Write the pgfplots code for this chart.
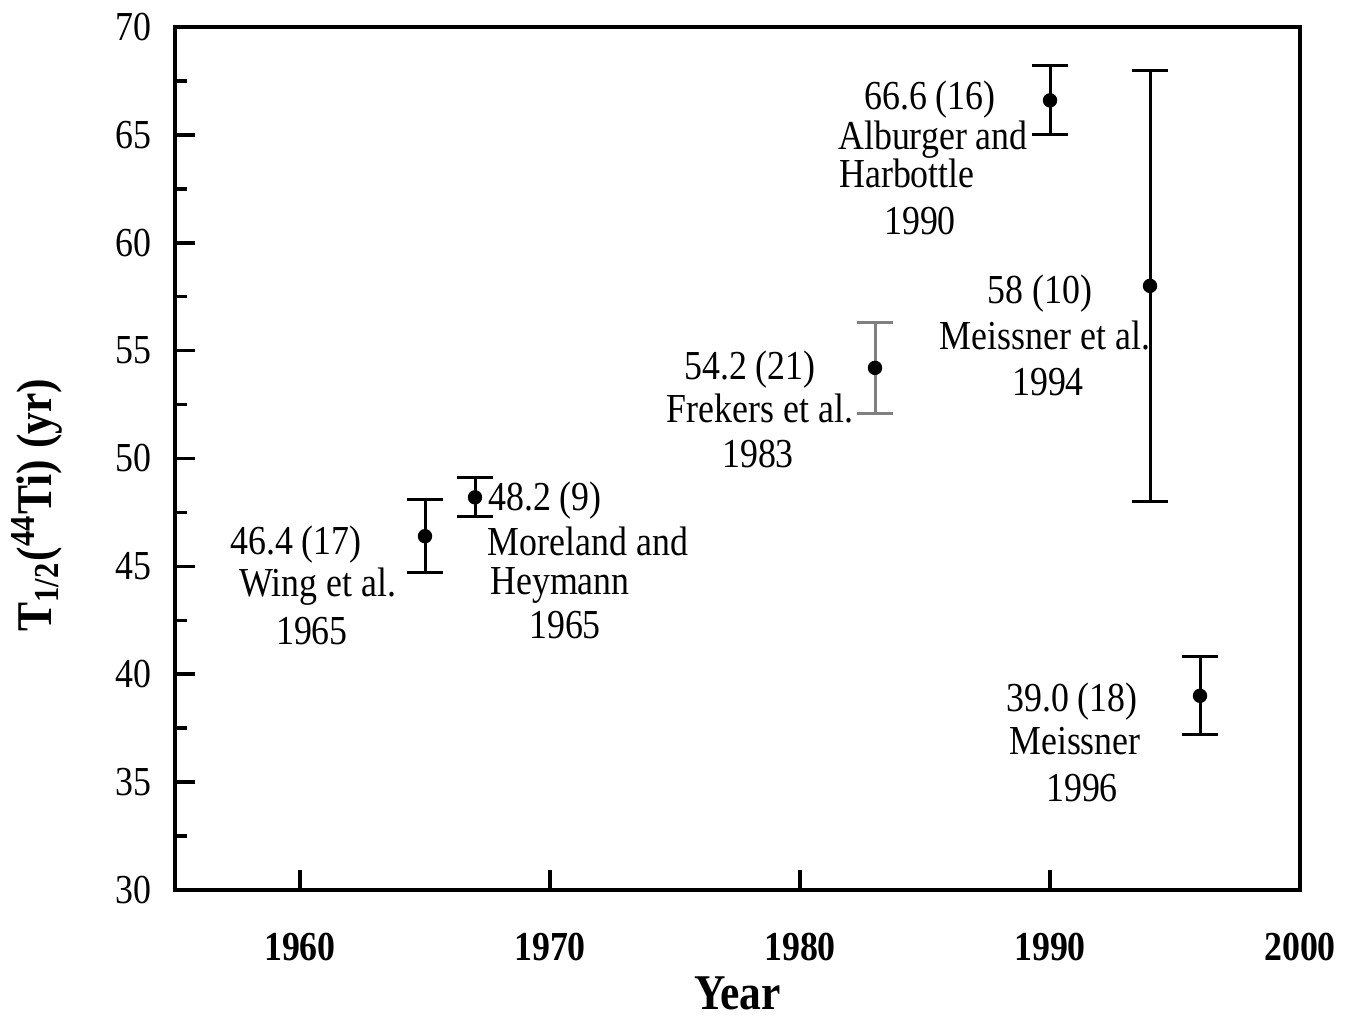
\documentclass[border=0pt]{standalone}
\usepackage{fontspec}
\setmainfont{Liberation Serif}[FakeStretch=0.87]
\usepackage{pgfplots}
\pgfplotsset{compat=1.18}

\begin{document}
\begin{tikzpicture}[
  lab/.style={anchor=base, yshift=-3.5pt, inner sep=0pt,
              font=\fontsize{10.3}{12}\selectfont},
]
\begin{axis}[
  name=ax,
  scale only axis, width=281.25pt, height=215.75pt,
  xmin=1955, xmax=2000, ymin=30, ymax=70,
  xtick={1960,1970,...,2000},
  ytick={30,35,...,70},
  minor ytick={32.5,37.5,...,67.5},
  tick align=inside, xtick pos=bottom, ytick pos=left,
  major tick length=5pt, minor tick length=3pt,
  axis line style={line width=1pt},
  tick style={line width=0.9pt, black},
  /pgf/number format/assume math mode=true,
  /pgf/number format/1000 sep={},
  xticklabel style={font=\fontsize{10.3}{12}\selectfont\bfseries, yshift=-7.3pt},
  yticklabel style={font=\fontsize{10.3}{12}\selectfont, xshift=-2.3pt},
  xlabel={Year},
  xlabel style={font=\fontsize{12.5}{14}\selectfont\bfseries,
                at={(axis description cs:0.5,0)}, anchor=base, yshift=-30pt},
  ylabel={T\textsubscript{1/2}(\textsuperscript{44}Ti) (yr)},
  ylabel style={font=\fontsize{12.5}{14}\selectfont\bfseries,
                at={(axis description cs:-0.123,0.446)}, anchor=center},
  clip=false,
]
% half-life measurements with their quoted uncertainties
\addplot[only marks, mark=*, mark size=1.6pt, black,
  error bars/.cd, y dir=both, y explicit,
  error bar style={line width=0.75pt, black},
  error mark options={rotate=90, mark size=4.5pt, line width=0.75pt, black}]
  coordinates {
    (1965,46.4) +- (0,1.7)
    (1967,48.2) +- (0,0.9)
    (1990,66.6) +- (0,1.6)
    (1994,58.0) +- (0,10.0)
    (1996,39.0) +- (0,1.8)
  };
\addplot[only marks, mark=*, mark size=1.6pt, black,
  error bars/.cd, y dir=both, y explicit,
  error bar style={line width=0.75pt, gray},
  error mark options={rotate=90, mark size=4.5pt, line width=0.75pt, gray}]
  coordinates {
    (1983,54.2) +- (0,2.1)
  };

% labels beside each measurement
\node[lab] at (axis cs:1959.84,46.22) {46.4 (17)};
\node[lab] at (axis cs:1960.72,44.23) {Wing et al.};
\node[lab] at (axis cs:1960.48,42.05) {1965};

\node[lab] at (axis cs:1969.80,48.22) {48.2 (9)};
\node[lab] at (axis cs:1971.52,46.13) {Moreland and};
\node[lab] at (axis cs:1970.40,44.36) {Heymann};
\node[lab] at (axis cs:1970.60,42.30) {1965};

\node[lab] at (axis cs:1978.00,54.29) {54.2 (21)};
\node[lab] at (axis cs:1978.40,52.34) {Frekers et al.};
\node[lab] at (axis cs:1978.32,50.25) {1983};

\node[lab] at (axis cs:1985.20,66.84) {66.6 (16)};
\node[lab] at (axis cs:1985.32,64.96) {Alburger and};
\node[lab] at (axis cs:1984.28,63.22) {Harbottle};
\node[lab] at (axis cs:1984.80,61.05) {1990};

\node[lab] at (axis cs:1989.60,57.81) {58 (10)};
\node[lab] at (axis cs:1989.80,55.72) {Meissner et al.};
\node[lab] at (axis cs:1989.92,53.55) {1994};

\node[lab] at (axis cs:1990.88,38.90) {39.0 (18)};
\node[lab] at (axis cs:1991.00,36.95) {Meissner};
\node[lab] at (axis cs:1991.28,34.77) {1996};
\end{axis}
\pgfresetboundingbox
\path (ax.south west) ++(-43.75pt,-31.5pt) rectangle ++(337.25pt,254pt);
\end{tikzpicture}
\end{document}
